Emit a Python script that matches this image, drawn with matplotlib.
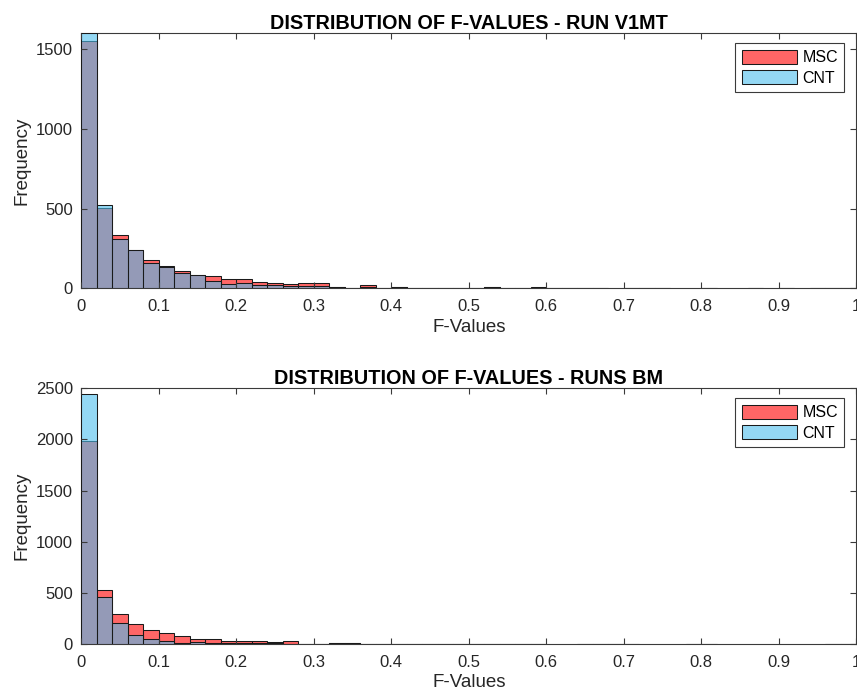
import numpy as np
import matplotlib.pyplot as plt
from matplotlib.patches import Patch

plt.rcParams['font.family'] = ['Liberation Sans', 'DejaVu Sans']

bin_width = 0.02
bin_edges = np.arange(0, 1, bin_width)

# counts per 0.02-wide bin of F-values (0 .. 1)
v1mt_msc = [1552, 504, 336, 240, 176, 137, 110, 85, 79, 60,
            58, 37, 31, 28, 33, 35, 10, 5, 22, 4,
            11, 5, 5, 1, 1, 1, 7, 2, 2, 7,
            2, 2, 1, 2, 0, 1, 1, 1, 0, 0,
            1, 0, 0, 1, 0, 1, 0, 1, 1, 1]
v1mt_cnt = [1600, 525, 307, 238, 156, 136, 93, 84, 46, 29,
            35, 19, 19, 12, 14, 17, 9, 5, 9, 4,
            10, 4, 4, 1, 2, 1, 6, 2, 1, 1,
            1, 2, 2, 1, 0, 1, 1, 1, 0, 0,
            1, 0, 0, 1, 0, 1, 0, 1, 1, 1]

bm_msc = [1982, 530, 293, 192, 137, 104, 75, 52, 49, 33,
          33, 26, 23, 25, 2, 1, 14, 12, 2, 2,
          2, 1, 2, 1, 1, 2, 1, 1, 2, 1,
          0, 0, 2, 2, 2, 2, 0, 0, 0, 2,
          2, 0, 0, 0, 0, 0, 0, 0, 2, 2]
bm_cnt = [2447, 456, 202, 88, 46, 33, 13, 23, 13, 7,
          10, 7, 7, 3, 1, 1, 5, 12, 2, 2,
          2, 1, 2, 1, 1, 2, 1, 1, 2, 1,
          0, 0, 2, 2, 2, 2, 0, 0, 0, 2,
          2, 0, 0, 0, 0, 0, 0, 0, 2, 2]

titles = ['DISTRIBUTION OF F-VALUES - RUN V1MT', 'DISTRIBUTION OF F-VALUES - RUNS BM']
y_limits = [1600, 2500]
y_ticks = [[0, 500, 1000, 1500], [0, 500, 1000, 1500, 2000, 2500]]
x_ticks = [0, 0.1, 0.2, 0.3, 0.4, 0.5, 0.6, 0.7, 0.8, 0.9, 1]
x_tick_labels = ['0', '0.1', '0.2', '0.3', '0.4', '0.5', '0.6', '0.7', '0.8', '0.9', '1']

msc_face = (1.0, 0.0, 0.0, 0.6)
cnt_face = (0.301, 0.745, 0.933, 0.6)
edge = '#1a1a1a'
axis_col = '#3a3a3a'
text_col = '#262626'


def draw_hist(ax, counts, face):
    counts = np.asarray(counts)
    keep = counts > 0
    ax.bar(bin_edges[keep], counts[keep], width=bin_width, align='edge',
           facecolor=face, edgecolor=edge, linewidth=0.75)


fig = plt.figure(figsize=(8.57, 6.98), dpi=100)
W, H = 857.0, 698.0
ax_left, ax_width = 81.3 / W, 775 / W
axes = [fig.add_axes([ax_left, 1 - 288.3 / H, ax_width, 255 / H]),
        fig.add_axes([ax_left, 1 - 644 / H, ax_width, 255.7 / H])]

panels = [(v1mt_msc, v1mt_cnt), (bm_msc, bm_cnt)]

for i, ax in enumerate(axes):
    msc, cnt = panels[i]
    draw_hist(ax, msc, msc_face)
    draw_hist(ax, cnt, cnt_face)

    ax.set_xlim(0, 1)
    ax.set_ylim(0, y_limits[i])
    ax.set_xticks(x_ticks)
    ax.set_xticklabels(x_tick_labels)
    ax.set_yticks(y_ticks[i])

    for s in ax.spines.values():
        s.set_color(axis_col)
        s.set_linewidth(0.8)
        s.set_zorder(0.5)
    ax.tick_params(direction='in', length=4, width=0.8, color=axis_col,
                   labelsize=12, labelcolor=text_col, top=True, right=True)
    ax.tick_params(axis='x', pad=8)
    ax.tick_params(axis='y', pad=6)

    ax.set_title(titles[i], fontsize=14.3, fontweight='bold', pad=3)
    ax.set_xlabel('F-Values', fontsize=13.5, color=text_col, labelpad=3)
    ax.set_ylabel('Frequency', fontsize=13.5, color=text_col, labelpad=4)

    handles = [Patch(facecolor=msc_face, edgecolor=edge, linewidth=0.75, label='MSC'),
               Patch(facecolor=cnt_face, edgecolor=edge, linewidth=0.75, label='CNT')]
    leg = ax.legend(handles=handles, loc='upper right',
                    bbox_to_anchor=(1 - 12 / 775, 1 - 10 / 255), borderaxespad=0,
                    fancybox=False, framealpha=1, edgecolor=axis_col, fontsize=11.5,
                    handlelength=3.5, handleheight=1.0, borderpad=0.4,
                    labelspacing=0.3, handletextpad=0.3)
    leg.get_frame().set_linewidth(0.8)

fig.savefig('out.png', dpi=100)
